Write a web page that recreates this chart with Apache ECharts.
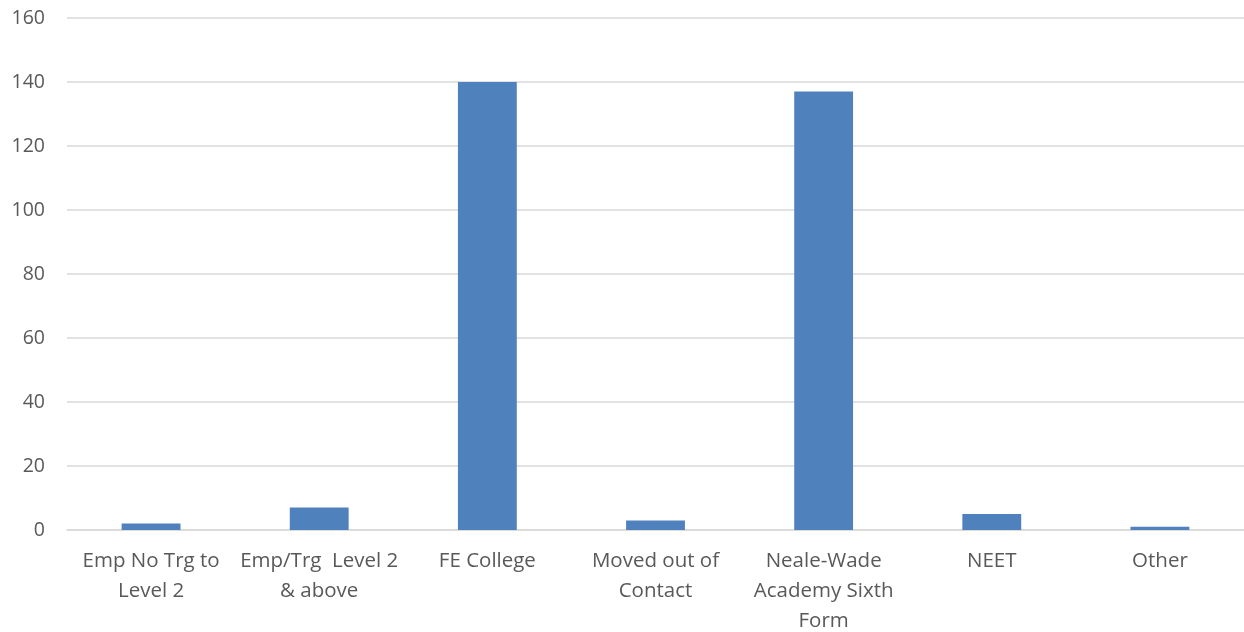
<!DOCTYPE html>
<html>
<head>
<meta charset="utf-8">
<script src="https://cdn.jsdelivr.net/npm/echarts@6/dist/echarts.min.js"></script>
<style>html,body{margin:0;padding:0;background:#fff}#c{width:1244px;height:632px}</style>
</head>
<body>
<div id="c"></div>
<script>
const categories = ["Emp No Trg to\nLevel 2", "Emp/Trg  Level 2\n& above", "FE College", "Moved out of\nContact", "Neale-Wade\nAcademy Sixth\nForm", "NEET", "Other"];
const values = [2, 7, 140, 3, 137, 5, 1];
const yTicks = { min: 0, max: 160, interval: 20 };

const chart = echarts.init(document.getElementById('c'));
chart.setOption({
  animation: false,
  grid: { left: 67, right: 0, top: 18, bottom: 102, outerBoundsMode: 'none' },
  xAxis: {
    type: 'category',
    data: categories,
    axisLine: { lineStyle: { color: '#d9d9d9', width: 1.5 } },
    axisTick: { show: false },
    axisLabel: { color: '#595959', fontFamily: 'Open Sans', fontSize: 20.5, lineHeight: 30, margin: 16, interval: 0 }
  },
  yAxis: {
    type: 'value',
    min: yTicks.min, max: yTicks.max, interval: yTicks.interval,
    axisLine: { show: false },
    axisTick: { show: false },
    splitLine: { lineStyle: { color: '#d9d9d9', width: 1.5 } },
    axisLabel: { color: '#595959', fontFamily: 'Open Sans', fontSize: 19.5, margin: 22 }
  },
  series: [{
    type: 'bar',
    data: values,
    barWidth: '35%',
    itemStyle: { color: '#4F81BD' }
  }]
});
</script>
</body>
</html>
